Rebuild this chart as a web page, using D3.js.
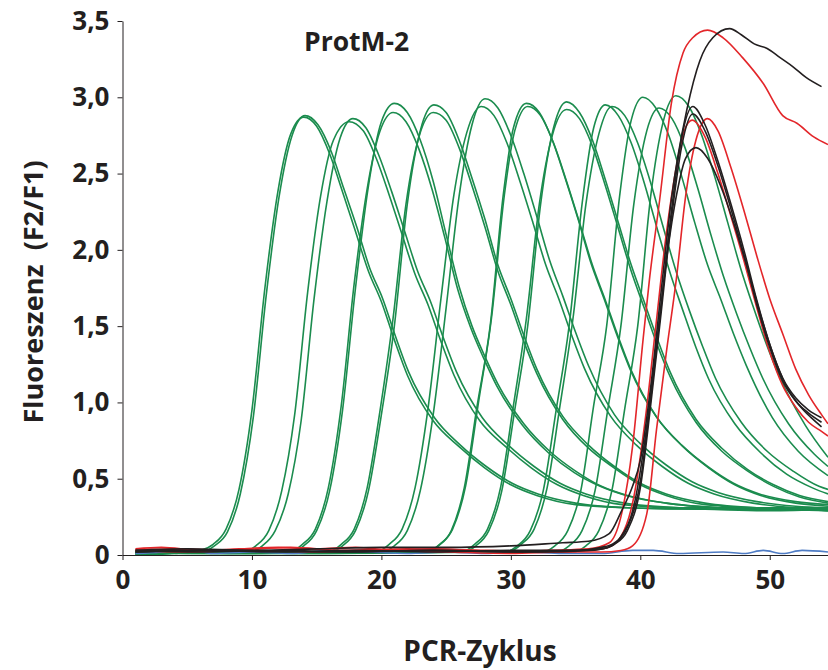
<!DOCTYPE html>
<html>
<head>
<meta charset="utf-8">
<script src="https://cdn.jsdelivr.net/npm/d3@7"></script>
<style>
  body { margin: 0; background: #fff; }
  svg { display: block; }
  .tick text, .label, .title { font-family: "Open Sans", sans-serif; font-weight: bold; fill: #231f20; }
</style>
</head>
<body>
<svg width="828" height="670"></svg>
<script>
// ---- data: [cycle, F2/F1] pairs ----
var xTicks = [0, 10, 20, 30, 40, 50];
var yTicks = [0, 0.5, 1, 1.5, 2, 2.5, 3, 3.5];

var greenCurves = [
  [[1,0.01],[4,0.02],[6.1,0.02],[7.1,0.06],[8.1,0.15],[9.1,0.4],[10.1,0.9],[11.1,1.7],[12.1,2.35],[13.1,2.75],[14.1,2.88],[15.1,2.82],[16.1,2.65],[17.1,2.4],[18.1,2.15],[19.1,1.88],[20.1,1.68],[21.1,1.43],[22.1,1.2],[24.1,0.9],[26.1,0.72],[28.1,0.58],[30.1,0.47],[32.1,0.4],[35,0.34],[39,0.31],[45,0.3],[50,0.29],[54.5,0.3]],
  [[1,0.0],[4,0.01],[6,0.03],[7,0.07],[8,0.17],[9,0.43],[10,0.95],[11,1.75],[12,2.38],[13,2.76],[14,2.87],[15,2.81],[16,2.63],[17,2.38],[18,2.12],[19,1.86],[20,1.66],[21,1.41],[22,1.18],[24,0.88],[26,0.71],[28,0.57],[30,0.46],[32,0.39],[35,0.33],[39,0.31],[45,0.3],[50,0.31],[54.5,0.29]],
  [[1,0.01],[5,0.02],[9.8,0.02],[10.8,0.06],[11.8,0.16],[12.8,0.4],[13.8,0.88],[14.8,1.68],[15.8,2.32],[16.8,2.73],[17.8,2.86],[18.8,2.8],[19.8,2.62],[20.8,2.38],[21.8,2.12],[22.8,1.86],[23.8,1.66],[24.8,1.42],[25.8,1.2],[27.8,0.9],[29.8,0.72],[31.8,0.58],[33.8,0.47],[35.8,0.4],[38.8,0.34],[43,0.31],[48,0.3],[54.5,0.3]],
  [[1,0.02],[5,0.01],[9.3,0.02],[10.3,0.06],[11.3,0.16],[12.3,0.42],[13.3,0.92],[14.3,1.72],[15.3,2.35],[16.3,2.72],[17.5,2.84],[18.6,2.78],[19.6,2.6],[20.6,2.36],[21.6,2.1],[22.6,1.84],[23.6,1.64],[24.6,1.4],[25.6,1.18],[27.6,0.88],[29.6,0.71],[31.6,0.57],[33.6,0.46],[35.6,0.39],[38.6,0.33],[43,0.31],[48,0.31],[54.5,0.29]],
  [[1,0.01],[6,0.02],[13,0.02],[14,0.06],[15,0.16],[16,0.42],[17,0.95],[18,1.75],[19,2.42],[20,2.84],[21,2.96],[22,2.9],[23,2.72],[24,2.45],[25,2.1],[26,1.76],[27,1.5],[28,1.3],[29,1.12],[31,0.86],[33,0.68],[35,0.55],[37,0.45],[39,0.39],[42,0.34],[46,0.31],[50,0.3],[54.5,0.29]],
  [[1,0.02],[6,0.01],[12.9,0.02],[13.9,0.07],[14.9,0.17],[15.9,0.44],[16.9,0.98],[17.9,1.78],[18.9,2.4],[19.9,2.78],[20.9,2.9],[21.9,2.84],[22.9,2.66],[23.9,2.4],[24.9,2.08],[25.9,1.74],[26.9,1.49],[27.9,1.29],[28.9,1.11],[30.9,0.85],[32.9,0.67],[34.9,0.54],[36.9,0.45],[38.9,0.39],[42,0.34],[46,0.31],[50,0.3],[54.5,0.31]],
  [[1,0.01],[8,0.02],[16,0.02],[17,0.06],[18,0.16],[19,0.42],[20,0.92],[21,1.5],[22,2.3],[23,2.78],[24.05,2.95],[25,2.9],[26,2.72],[27,2.47],[28,2.2],[29,1.9],[30,1.68],[31,1.44],[32,1.22],[34,0.91],[36,0.72],[38,0.58],[40,0.47],[42,0.4],[45,0.34],[49,0.31],[54.5,0.3]],
  [[1,0.02],[8,0.01],[15.9,0.02],[16.9,0.07],[17.9,0.17],[18.9,0.44],[19.9,0.95],[20.9,1.55],[21.9,2.3],[22.9,2.74],[24,2.9],[25,2.85],[26,2.67],[27,2.42],[28,2.15],[29,1.86],[30,1.64],[31,1.4],[32,1.19],[34,0.89],[36,0.7],[38,0.57],[40,0.46],[42,0.39],[45,0.33],[49,0.31],[54.5,0.31]],
  [[1,0.01],[10,0.02],[20,0.02],[21,0.06],[22,0.16],[23,0.42],[24,0.92],[25,1.62],[26,2.35],[27,2.82],[28,2.99],[29,2.93],[30,2.75],[31,2.5],[32,2.22],[33,1.93],[34,1.7],[35,1.46],[36,1.24],[38,0.92],[40,0.73],[42,0.59],[44,0.48],[46,0.41],[49,0.35],[52,0.32],[54.5,0.31]],
  [[1,0.02],[10,0.01],[19.6,0.02],[20.6,0.07],[21.6,0.17],[22.6,0.44],[23.6,0.96],[24.6,1.68],[25.6,2.36],[26.6,2.77],[27.7,2.94],[28.7,2.88],[29.7,2.7],[30.7,2.45],[31.7,2.18],[32.7,1.9],[33.7,1.68],[34.7,1.44],[35.7,1.22],[37.7,0.91],[39.7,0.72],[41.7,0.58],[43.7,0.47],[45.7,0.4],[48.7,0.34],[52,0.31],[54.5,0.3]],
  [[1,0.01],[12,0.02],[23.4,0.02],[24.4,0.06],[25.4,0.16],[26.4,0.44],[27.4,0.98],[28.4,1.5],[29.4,2.35],[30.2,2.8],[31.2,2.96],[32.2,2.9],[33.2,2.72],[34.2,2.47],[35.2,2.2],[36.2,1.91],[37.2,1.68],[38.2,1.44],[39.2,1.22],[41.2,0.91],[43.2,0.72],[45.2,0.58],[47.2,0.47],[49.2,0.4],[52,0.35],[54.5,0.33]],
  [[1,0.02],[12,0.01],[23.5,0.02],[24.5,0.07],[25.5,0.17],[26.5,0.45],[27.5,1.0],[28.5,1.55],[29.5,2.36],[30.3,2.78],[31.3,2.94],[32.3,2.88],[33.3,2.7],[34.3,2.45],[35.3,2.18],[36.3,1.9],[37.3,1.67],[38.3,1.43],[39.3,1.21],[41.3,0.9],[43.3,0.71],[45.3,0.57],[47.3,0.46],[49.3,0.39],[52,0.34],[54.5,0.32]],
  [[1,0.01],[14,0.02],[26.3,0.02],[27.3,0.06],[28.3,0.16],[29.3,0.42],[30.3,0.95],[31.3,1.5],[32.3,2.3],[33.3,2.8],[34.3,2.97],[35.3,2.9],[36.3,2.72],[37.3,2.46],[38.3,2.18],[39.3,1.9],[40.3,1.66],[41.3,1.42],[42.3,1.2],[44.3,0.89],[46.3,0.7],[48.3,0.56],[50.3,0.46],[52.3,0.39],[54.5,0.35]],
  [[1,0.02],[14,0.01],[26.2,0.02],[27.2,0.07],[28.2,0.17],[29.2,0.44],[30.2,0.98],[31.2,1.55],[32.2,2.3],[33.2,2.75],[34.3,2.92],[35.3,2.86],[36.3,2.68],[37.3,2.42],[38.3,2.14],[39.3,1.86],[40.3,1.62],[41.3,1.38],[42.3,1.17],[44.3,0.87],[46.3,0.68],[48.3,0.55],[50.3,0.45],[52.3,0.38],[54.5,0.34]],
  [[1,0.01],[16,0.02],[29.5,0.02],[30.5,0.06],[31.5,0.16],[32.5,0.42],[33.5,0.95],[34.5,1.5],[35.5,2.3],[36.4,2.8],[37.3,2.95],[38.3,2.88],[39.3,2.7],[40.3,2.44],[41.3,2.14],[42.3,1.85],[43.3,1.6],[44.3,1.36],[45.3,1.15],[47.3,0.86],[49.3,0.67],[51.3,0.53],[53.3,0.44],[54.5,0.4]],
  [[1,0.02],[16,0.01],[29.8,0.02],[30.8,0.07],[31.8,0.17],[32.8,0.44],[33.8,0.98],[34.8,1.55],[35.8,2.3],[36.8,2.76],[37.8,2.94],[38.8,2.88],[39.8,2.7],[40.8,2.44],[41.8,2.14],[42.8,1.85],[43.8,1.6],[44.8,1.37],[45.8,1.16],[47.8,0.87],[49.8,0.68],[51.8,0.55],[53.8,0.45],[54.5,0.43]],
  [[1,0.01],[18,0.02],[32.4,0.02],[33.4,0.06],[34.4,0.16],[35.4,0.42],[36.4,0.98],[37.4,1.5],[38.4,2.35],[39.3,2.85],[40.2,3.0],[41.2,2.93],[42.2,2.75],[43.2,2.48],[44.2,2.18],[45.2,1.9],[46.2,1.68],[47.2,1.45],[48.2,1.24],[50.2,0.9],[52.2,0.68],[54.5,0.52]],
  [[1,0.01],[20,0.02],[33.5,0.02],[34.5,0.06],[35.5,0.16],[36.5,0.42],[37.5,0.96],[38.5,1.5],[39.5,2.3],[40.5,2.78],[41.45,2.93],[42.45,2.86],[43.45,2.67],[44.45,2.4],[45.45,2.1],[46.45,1.82],[47.45,1.58],[48.45,1.36],[49.45,1.16],[51.45,0.86],[53.45,0.66],[54.5,0.58]],
  [[1,0.01],[20,0.02],[34.8,0.02],[35.8,0.06],[36.8,0.16],[37.8,0.42],[38.8,0.96],[39.8,1.5],[40.8,2.35],[41.8,2.85],[42.75,3.01],[43.75,2.94],[44.75,2.75],[45.75,2.48],[46.75,2.18],[47.75,1.88],[48.75,1.62],[49.75,1.38],[50.75,1.17],[52.75,0.85],[54.5,0.64]]
];

var redCurves = [
  [[1,0.04],[3,0.05],[6,0.03],[9,0.04],[12,0.05],[15,0.04],[18,0.05],[21,0.03],[24,0.04],[27,0.03],[30,0.02],[33,0.03],[36,0.04],[37.6,0.08],[38.5,0.25],[39.4,0.71],[40.2,1.4],[40.7,1.8],[41.5,2.33],[42.4,2.96],[43.3,3.29],[44.05,3.39],[45.2,3.44],[46.4,3.39],[47.9,3.26],[49.5,3.09],[51,2.88],[52.1,2.83],[53.4,2.74],[54.5,2.69]],
  [[1,0.03],[4,0.04],[8,0.03],[13,0.05],[17,0.03],[22,0.04],[28,0.03],[33,0.02],[36,0.03],[37.5,0.05],[38.5,0.12],[39.5,0.38],[40.4,0.9],[41.2,1.5],[42,2.1],[42.8,2.55],[43.4,2.78],[44,2.85],[45,2.74],[46,2.5],[47,2.22],[48,1.93],[49,1.62],[50,1.33],[51,1.11],[52,0.97],[53,0.87],[54,0.81],[54.5,0.78]],
  [[1,0.03],[5,0.02],[10,0.03],[15,0.02],[20,0.03],[25,0.02],[30,0.01],[34,0.02],[37,0.02],[38.5,0.03],[39.4,0.06],[40.5,0.27],[41.25,0.82],[42,1.32],[42.8,1.82],[43.5,2.35],[44.3,2.72],[45.2,2.86],[46,2.78],[47,2.54],[48,2.26],[49,1.96],[50,1.68],[51,1.45],[52,1.22],[53,1.05],[54,0.92],[54.5,0.86]]
];

var blackCurves = [
  [[1,0.03],[5,0.04],[10,0.03],[15,0.04],[20,0.05],[25,0.05],[30,0.06],[34,0.08],[36,0.09],[37.6,0.14],[38.5,0.28],[39.4,0.45],[40,0.62],[40.8,1.1],[41.6,1.72],[42.4,2.33],[43.6,2.92],[44.6,3.24],[45.6,3.39],[46.9,3.45],[47.8,3.41],[48.8,3.35],[49.8,3.32],[50.8,3.26],[51.8,3.2],[52.8,3.13],[54,3.07]],
  [[1,0.02],[6,0.03],[12,0.02],[18,0.03],[24,0.02],[30,0.03],[35,0.03],[37,0.05],[38,0.08],[39,0.18],[40,0.48],[40.8,1.02],[41.6,1.62],[42.4,2.25],[43.2,2.74],[44.05,2.94],[45,2.82],[46,2.58],[47,2.3],[48,2.0],[49,1.67],[50,1.38],[51,1.16],[52,1.03],[53,0.95],[54,0.9]],
  [[1,0.03],[6,0.02],[12,0.03],[18,0.02],[24,0.03],[30,0.02],[35,0.03],[37,0.04],[38,0.07],[39,0.16],[40,0.44],[40.8,0.98],[41.6,1.58],[42.4,2.2],[43.2,2.68],[44.05,2.89],[45,2.78],[46,2.55],[47,2.27],[48,1.97],[49,1.64],[50,1.36],[51,1.14],[52,1.01],[53,0.93],[54,0.87]],
  [[1,0.02],[8,0.03],[16,0.02],[24,0.03],[32,0.02],[36,0.03],[37.5,0.05],[38.5,0.12],[39.5,0.32],[40.4,0.78],[41.2,1.34],[42,1.92],[42.8,2.36],[43.5,2.6],[44.3,2.67],[45.2,2.6],[46.2,2.42],[47.2,2.18],[48.2,1.9],[49.2,1.6],[50.2,1.33],[51.2,1.12],[52.2,0.99],[53.2,0.9],[54,0.84]]
];

var blueCurve = [[1,0.01],[3,0.02],[5,0.04],[7,0.01],[10,0.02],[13,0.01],[16,0.03],[19,0.02],[22,0.01],[25,0.02],[28,0.01],[31,0.02],[34,0.01],[37,0.01],[39.4,0.03],[41,0.03],[43,0.01],[46.4,0.02],[48,0.01],[49.5,0.03],[51,0.01],[52.5,0.03],[54.5,0.02]];

// ---- scales ----
var svg = d3.select("svg");

var xScale = d3.scaleLinear().domain([0, 54.5]).range([122.5, 828]);
var yScale = d3.scaleLinear().domain([0, 3.5]).range([555, 21]);

var line = d3.line()
    .x(function(d){ return xScale(d[0]); })
    .y(function(d){ return yScale(d[1]); })
    .curve(d3.curveMonotoneX);

function drawCurves(list, color) {
    svg.append("g").selectAll("path")
        .data(list)
        .enter()
        .append("path")
        .attr("d", line)
        .attr("fill", "none")
        .attr("stroke", color)
        .attr("stroke-width", 1.6);
}

drawCurves(greenCurves, "#1b8c4e");
drawCurves([blueCurve], "#4f7cc4");
drawCurves(redCurves, "#e3262a");
drawCurves(blackCurves, "#231f20");

// ---- axes ----
var xAxis = svg.append("g")
    .attr("transform", "translate(0,555)")
    .call(d3.axisBottom(xScale).tickValues(xTicks).tickSize(5).tickSizeOuter(0));

var yAxis = svg.append("g")
    .attr("transform", "translate(122.5,0)")
    .call(d3.axisLeft(yScale).tickValues(yTicks).tickSize(5).tickSizeOuter(0)
        .tickFormat(function(d){ return d === 0 ? "0" : d3.format(".1f")(d).replace(".", ","); }));

svg.selectAll(".domain, .tick line").attr("stroke", "#231f20").attr("stroke-width", 1);
xAxis.selectAll("text").attr("font-size", "26px").attr("dy", "1.0em");
yAxis.selectAll("text").attr("font-size", "26px").attr("x", -13);

svg.append("text")
    .attr("class", "label")
    .attr("x", 480).attr("y", 661)
    .attr("text-anchor", "middle")
    .style("font-size", "28px")
    .text("PCR-Zyklus");

svg.append("text")
    .attr("class", "label")
    .attr("transform", "translate(43,292) rotate(-90)")
    .attr("text-anchor", "middle")
    .style("font-size", "27px")
    .style("white-space", "pre")
    .text("Fluoreszenz  (F2/F1)");

svg.append("text")
    .attr("class", "title")
    .attr("x", 304).attr("y", 51)
    .style("font-size", "26.5px")
    .text("ProtM-2");
</script>
</body>
</html>
